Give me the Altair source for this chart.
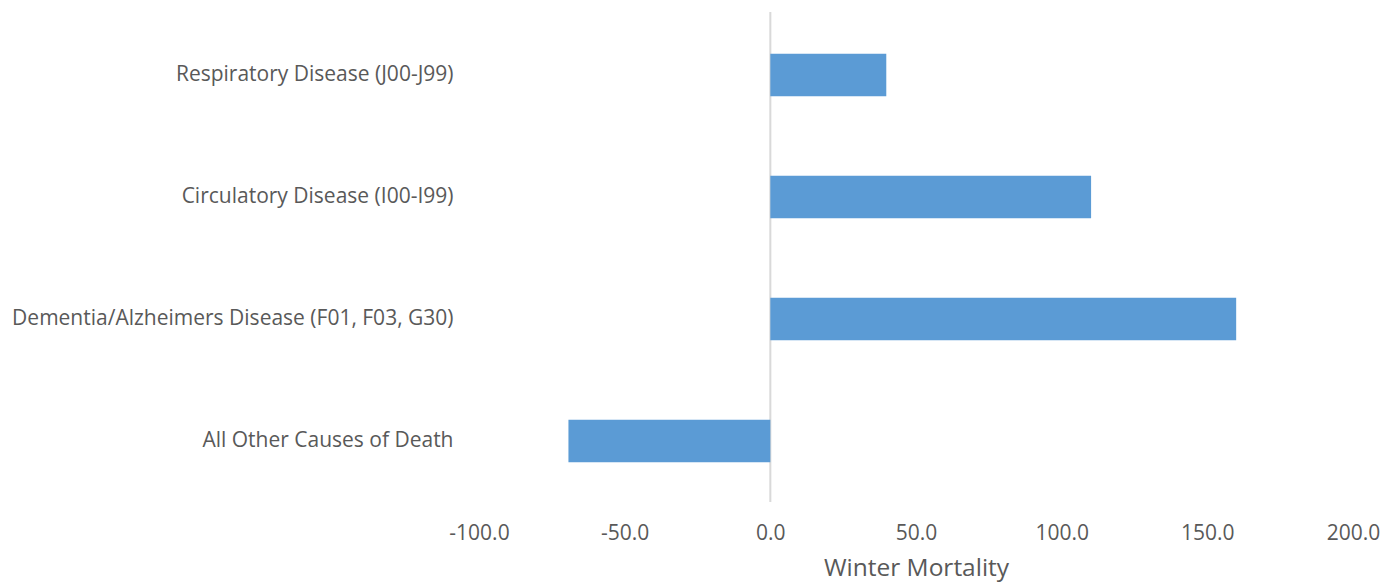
import altair as alt
import pandas as pd

causes = [
    "Respiratory Disease (J00-J99)",
    "Circulatory Disease (I00-I99)",
    "Dementia/Alzheimers Disease (F01, F03, G30)",
    "All Other Causes of Death",
]
values = [39.8, 110.1, 159.9, -69.3]
tick_values = [-100, -50, 0, 50, 100, 150, 200]

df = pd.DataFrame({"cause": causes, "value": values})

W, H = 874, 488
FONT = "Open Sans"
GREY = "#595959"

bars = alt.Chart(df).mark_bar(color="#5B9BD5").encode(
    x=alt.X(
        "value:Q",
        scale=alt.Scale(domain=[-100, 200], nice=False, zero=False),
        axis=alt.Axis(
            values=tick_values,
            labelExpr="(datum.value < 0 ? '-' : '') + format(abs(datum.value), '.1f')",
            title="Winter Mortality",
            grid=False,
            ticks=False,
            domain=False,
            labelFlush=False,
            labelPadding=20,
            labelFont=FONT,
            labelFontSize=21,
            labelColor=GREY,
            titleFont=FONT,
            titleFontSize=24.5,
            titleFontWeight="normal",
            titleColor=GREY,
            titlePadding=13,
        ),
    ),
    y=alt.Y(
        "cause:N",
        sort=causes,
        scale=alt.Scale(paddingInner=0.65, paddingOuter=0.325),
        axis=alt.Axis(
            title=None,
            grid=False,
            ticks=False,
            domain=False,
            labelPadding=26,
            labelFont=FONT,
            labelFontSize=21,
            labelColor=GREY,
            labelLimit=600,
        ),
    ),
)

zero = alt.Chart(pd.DataFrame({"z": [0]})).mark_rule(color="#d9d9d9", strokeWidth=2).encode(
    x=alt.X("z:Q"),
    y=alt.value(-2),
    y2=alt.value(H),
)

chart = (
    alt.layer(zero, bars)
    .properties(
        width=W,
        height=H,
        autosize=alt.AutoSizeParams(type="none"),
        padding={"left": 479, "top": 14, "right": 27, "bottom": 81},
        background="white",
    )
    .configure_view(stroke=None)
)

chart.save("out.html", embed_options={"renderer": "svg", "actions": False})
